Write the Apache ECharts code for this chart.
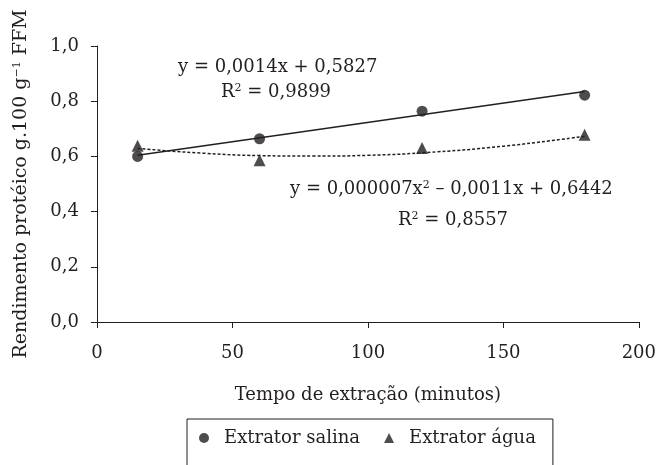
<!DOCTYPE html>
<html><head><meta charset="utf-8">
<script src="https://cdn.jsdelivr.net/npm/echarts@6/dist/echarts.min.js"></script>
<style>html,body{margin:0;padding:0;background:#fff}#c{width:659px;height:465px}</style>
</head><body><div id="c"></div>
<script>
const times = [15, 60, 120, 180];
const salina = [0.600, 0.664, 0.764, 0.822];
const agua = [0.639, 0.586, 0.630, 0.678];
// trend lines
const linX = [15, 180];
const linY = [0.604, 0.835];
const polyX = [15, 40, 60, 80, 100, 120, 150, 180];
const polyY = [0.629, 0.611, 0.603, 0.601, 0.604, 0.613, 0.637, 0.673];
const xTicks = [0, 50, 100, 150, 200];
const yTicks = [0, 0.2, 0.4, 0.6, 0.8, 1.0];

const F = 'DejaVu Serif';
const C = '#231f20';
const sup = {fontFamily: F, fontSize: 11, verticalAlign: 'top', padding: [0,0,7,0], fill: C, color: C};
const nrm = {fontFamily: F, fontSize: 18, fill: C, color: C};
const chart = echarts.init(document.getElementById('c'));
const pair = (xs, ys) => xs.map((x, i) => [x, ys[i]]);
chart.setOption({
  animation: false,
  textStyle: {fontFamily: F, color: C},
  grid: {left: 97, right: 19, top: 46, bottom: 143},
  xAxis: {
    type: 'value', min: xTicks[0], max: xTicks[xTicks.length-1], interval: 50,
    name: 'Tempo de extração (minutos)', nameLocation: 'middle', nameGap: 64,
    nameTextStyle: {fontFamily: F, fontSize: 18, color: C},
    axisLine: {lineStyle: {color: C, width: 1}},
    axisTick: {show: true, inside: false, length: 6, lineStyle: {color: C}},
    axisLabel: {fontFamily: F, fontSize: 18, color: C, margin: 22},
    splitLine: {show: false}
  },
  yAxis: {
    type: 'value', min: yTicks[0], max: yTicks[yTicks.length-1], interval: 0.2,
    name: '{n|Rendimento protéico g.100 g}{s|−1}{n| FFM}', nameLocation: 'middle', nameGap: 66,
    nameTextStyle: {fontFamily: F, fontSize: 19, color: C,
      rich: {n: {fontFamily: F, fontSize: 19, color: C}, s: {fontFamily: F, fontSize: 11, color: C, verticalAlign: 'top', padding: [0,0,8,0]}}},
    axisLine: {show: true, lineStyle: {color: C, width: 1}},
    axisTick: {show: true, inside: false, length: 6, lineStyle: {color: C}},
    axisLabel: {fontFamily: F, fontSize: 18, color: C, margin: 18,
      formatter: v => v.toFixed(1).replace('.', ',')},
    splitLine: {show: false}
  },
  legend: {
    data: [{name: 'Extrator salina', icon: 'circle'}, {name: 'Extrator água', icon: 'triangle'}],
    left: 187, top: 419,
    itemWidth: 10, itemHeight: 10, itemGap: 24,
    padding: [10, 17, 20, 12],
    borderColor: C, borderWidth: 1,
    textStyle: {fontFamily: F, fontSize: 18, color: C, padding: [0, 0, 0, 10]}
  },
  graphic: [
    {type: 'text', left: 178, top: 58, style: {text: '{n|y = 0,0014x + 0,5827}', rich: {n: nrm}}},
    {type: 'text', left: 221, top: 83, style: {text: '{n|R}{s|2}{n| = 0,9899}', rich: {n: nrm, s: sup}}},
    {type: 'text', left: 290, top: 180, style: {text: '{n|y = 0,000007x}{s|2}{n| – 0,0011x + 0,6442}', rich: {n: nrm, s: sup}}},
    {type: 'text', left: 398, top: 211, style: {text: '{n|R}{s|2}{n| = 0,8557}', rich: {n: nrm, s: sup}}}
  ],
  series: [
    {name: 'lin', type: 'line', data: pair(linX, linY), symbol: 'none', lineStyle: {color: C, width: 1.5}, silent: true, z: 1},
    {name: 'poly', type: 'line', data: pair(polyX, polyY), smooth: true, symbol: 'none', lineStyle: {color: C, width: 1.5, type: [3, 2]}, silent: true, z: 1},
    {name: 'Extrator salina', type: 'scatter', data: pair(times, salina), symbol: 'circle', symbolSize: 11, itemStyle: {color: C}, z: 3},
    {name: 'Extrator água', type: 'scatter', data: pair(times, agua), symbol: 'triangle', symbolSize: 12, itemStyle: {color: C}, z: 3}
  ]
});
</script></body></html>
